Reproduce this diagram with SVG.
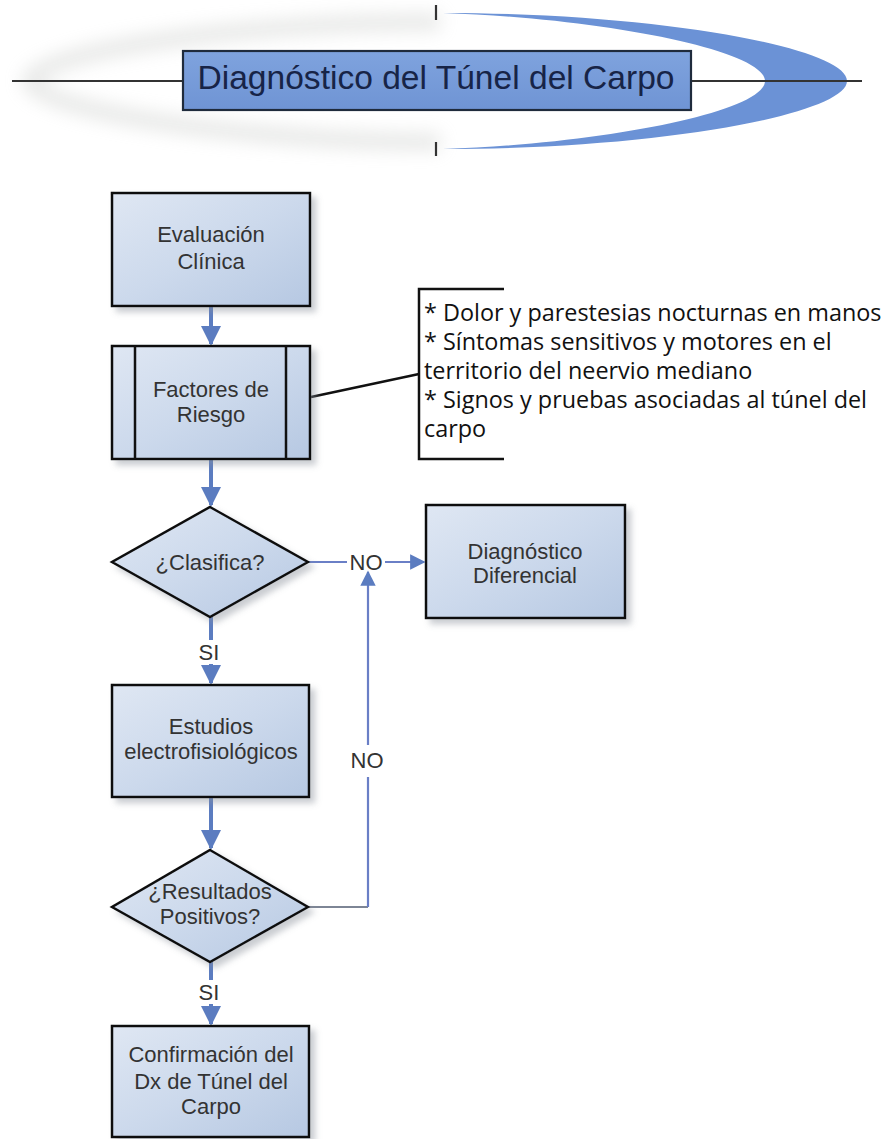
<svg xmlns="http://www.w3.org/2000/svg" width="891" height="1139" viewBox="0 0 891 1139">
<defs>
<linearGradient id="nodeFill" x1="0" y1="0" x2="1" y2="1">
<stop offset="0" stop-color="#dfe7f3"/>
<stop offset="0.5" stop-color="#ccd9ec"/>
<stop offset="1" stop-color="#b6c8e2"/>
</linearGradient>
<linearGradient id="titleFill" x1="0" y1="0" x2="0" y2="1">
<stop offset="0" stop-color="#7fa3de"/>
<stop offset="1" stop-color="#6f94d4"/>
</linearGradient>
<filter id="shadow" x="-10%" y="-10%" width="130%" height="130%">
<feDropShadow dx="5" dy="5" stdDeviation="3" flood-color="#8a8f99" flood-opacity="0.45"/>
</filter>
<filter id="blur" x="-20%" y="-50%" width="140%" height="200%">
<feGaussianBlur stdDeviation="9"/>
</filter>
<marker id="arrowBlue" viewBox="0 0 10 10" refX="9" refY="5" markerWidth="5" markerHeight="5" markerUnits="strokeWidth" orient="auto">
<path d="M0,0 L10,5 L0,10 Z" fill="#5b7cc0"/>
</marker>
<marker id="arrowThin" viewBox="0 0 10 10" refX="9" refY="5" markerWidth="7" markerHeight="7" markerUnits="strokeWidth" orient="auto">
<path d="M0,0 L10,5 L0,10 Z" fill="#5b7cc0"/>
</marker>
</defs>
<style>
.node{fill:url(#nodeFill);stroke:#111;stroke-width:2.5;filter:url(#shadow)}
.inner{stroke:#111;stroke-width:2.5;fill:none}
.lbl{font-family:"Liberation Sans",Arial,sans-serif;font-size:22px;fill:#333;text-anchor:middle}
.note{font-family:"Open Sans","Noto Sans",sans-serif;font-size:23.4px;fill:#111}
.flow{stroke:#5b7cc0;stroke-width:4;fill:none}
.thin{stroke:#6a7fc6;stroke-width:2.2;fill:none}
</style>
<rect width="891" height="1139" fill="#ffffff"/>

<g id="title">
<path d="M440,22 C250,22 40,50 30,81 C40,112 250,142 440,142" fill="none" stroke="#b9bcb8" stroke-width="16" opacity="0.35" filter="url(#blur)"/>
<path d="M443,13 C660,13 847,48 847,81 C847,114 660,149 443,149 C600,144 765,112 765,81 C765,50 600,18 443,13 Z" fill="#6b92d6"/>
<line x1="12" y1="81" x2="183" y2="81" stroke="#333" stroke-width="1.8"/>
<line x1="691" y1="81" x2="862" y2="81" stroke="#333" stroke-width="1.8"/>
<line x1="436" y1="5" x2="436" y2="20" stroke="#333" stroke-width="2.2"/>
<line x1="436" y1="142" x2="436" y2="156" stroke="#333" stroke-width="2.2"/>
<rect x="183" y="51" width="508" height="59" fill="url(#titleFill)" stroke="#1f2b3c" stroke-width="2.2"/>
<text x="436" y="89" font-family="'Liberation Sans',Arial,sans-serif" font-size="33.5" fill="#172447" text-anchor="middle" textLength="477" lengthAdjust="spacingAndGlyphs">Diagnóstico del Túnel del Carpo</text>
</g>

<g id="connectors">
<line class="flow" x1="211" y1="306" x2="211" y2="344" marker-end="url(#arrowBlue)"/>
<line class="flow" x1="211" y1="459" x2="211" y2="505" marker-end="url(#arrowBlue)"/>
<line class="flow" x1="211" y1="617" x2="211" y2="640"/>
<line class="flow" x1="211" y1="664" x2="211" y2="683" marker-end="url(#arrowBlue)"/>
<line class="flow" x1="211" y1="797" x2="211" y2="848" marker-end="url(#arrowBlue)"/>
<line class="flow" x1="211" y1="962" x2="211" y2="980"/>
<line class="flow" x1="211" y1="1004" x2="211" y2="1024" marker-end="url(#arrowBlue)"/>
<line class="thin" x1="308" y1="562" x2="347" y2="562"/>
<line class="thin" x1="385" y1="562" x2="424" y2="562" marker-end="url(#arrowThin)"/>
<path d="M308,907 H368" stroke="#7d8595" stroke-width="2.2" fill="none"/>
<path class="thin" d="M368,907 V777"/>
<line class="thin" x1="368" y1="745" x2="368" y2="572" marker-end="url(#arrowThin)"/>
<line x1="311" y1="397" x2="419" y2="374" stroke="#111" stroke-width="2.5"/>
<text class="lbl" x="366" y="570">NO</text>
<text class="lbl" x="367" y="768">NO</text>
<text class="lbl" x="209" y="660">SI</text>
<text class="lbl" x="209" y="1000">SI</text>
</g>

<g id="evaluacion">
<rect class="node" x="112" y="193" width="198" height="113"/>
<text class="lbl" x="211" y="242">Evaluación</text>
<text class="lbl" x="211" y="269">Clínica</text>
</g>

<g id="factores">
<rect class="node" x="112" y="346" width="198" height="113"/>
<line class="inner" x1="135" y1="346" x2="135" y2="459"/>
<line class="inner" x1="286" y1="346" x2="286" y2="459"/>
<text class="lbl" x="211" y="397">Factores de</text>
<text class="lbl" x="211" y="422">Riesgo</text>
</g>

<g id="nota">
<path d="M504,289 H419 V459 H504" fill="none" stroke="#111" stroke-width="2.5"/>
<text class="note" x="424" y="321">* Dolor y parestesias nocturnas en manos</text>
<text class="note" x="424" y="350">* Síntomas sensitivos y motores en el</text>
<text class="note" x="424" y="379">territorio del neervio mediano</text>
<text class="note" x="424" y="408">* Signos y pruebas asociadas al túnel del</text>
<text class="note" x="424" y="437">carpo</text>
</g>

<g id="clasifica">
<path class="node" d="M210,507 L308,562 L210,617 L112,562 Z"/>
<text class="lbl" x="210" y="570">¿Clasifica?</text>
</g>

<g id="diferencial">
<rect class="node" x="426" y="505" width="199" height="113"/>
<text class="lbl" x="525" y="559">Diagnóstico</text>
<text class="lbl" x="525" y="583">Diferencial</text>
</g>

<g id="estudios">
<rect class="node" x="112" y="685" width="197" height="112"/>
<text class="lbl" x="211" y="734">Estudios</text>
<text class="lbl" x="211" y="759">electrofisiológicos</text>
</g>

<g id="resultados">
<path class="node" d="M210,850 L308,907 L210,962 L112,907 Z"/>
<text class="lbl" x="210" y="899">¿Resultados</text>
<text class="lbl" x="210" y="924">Positivos?</text>
</g>

<g id="confirmacion">
<rect class="node" x="112" y="1026" width="197" height="111"/>
<text class="lbl" x="211" y="1062">Confirmación del</text>
<text class="lbl" x="211" y="1089">Dx de Túnel del</text>
<text class="lbl" x="211" y="1114">Carpo</text>
</g>
</svg>
